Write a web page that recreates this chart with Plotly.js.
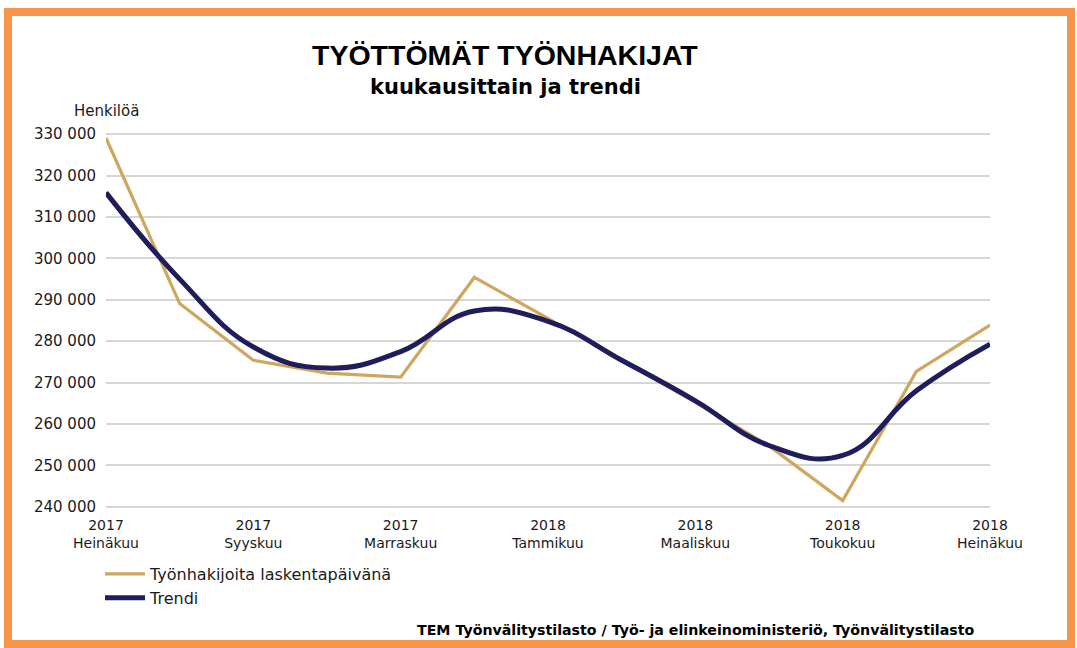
<!DOCTYPE html>
<html>
<head>
<meta charset="utf-8">
<script src="https://cdn.plot.ly/plotly-3.0.1.min.js"></script>
<style>
  html, body { margin: 0; padding: 0; background: #ffffff; }
  #wrap { position: relative; width: 1077px; height: 648px; }
  #chart { position: absolute; left: 0; top: 0; width: 1077px; height: 648px; }
  #frame { position: absolute; left: 4px; top: 8px; width: 1071px; height: 640px;
           box-sizing: border-box; border: 8px solid #F7964A; pointer-events: none; }
</style>
</head>
<body>
<div id="wrap">
  <div id="chart"></div>
  <div id="frame"></div>
</div>
<script>
// Months July 2017 .. July 2018
const months = ["2017-07","2017-08","2017-09","2017-10","2017-11","2017-12",
                "2018-01","2018-02","2018-03","2018-04","2018-05","2018-06","2018-07"];
// Työnhakijoita laskentapäivänä
const jobseekers = [329100, 289100, 275400, 272300, 271300, 295400,
                    285500, 275500, 265300, 254700, 241500, 272700, 283900];
// Trendi
const trend = [315900, 295000, 278600, 273500, 277500, 287300,
               284800, 275400, 265600, 254800, 252400, 268000, 279300];
const tickMonths = ["2017-07","2017-09","2017-11","2018-01","2018-03","2018-05","2018-07"];
const tickLabels = ["2017<br>Heinäkuu","2017<br>Syyskuu","2017<br>Marraskuu","2018<br>Tammikuu",
                    "2018<br>Maaliskuu","2018<br>Toukokuu","2018<br>Heinäkuu"];
const yTicks = [240000,250000,260000,270000,280000,290000,300000,310000,320000,330000];

const seriesNames = ["Työnhakijoita laskentapäivänä", "Trendi"];

const traces = [
  { x: months, y: jobseekers, name: seriesNames[0], type: "scatter", mode: "lines",
    line: { color: "#CFA65E", width: 3.2 } },
  { x: months, y: trend, name: seriesNames[1], type: "scatter", mode: "lines",
    line: { color: "#1F1D5C", width: 5, shape: "spline", smoothing: 1.25 } }
];

const PL = 106, PR = 990, PT = 133, PB = 508;
const px = p => (p - PL) / (PR - PL);
const py = q => (PB - q) / (PB - PT);
const SMALL = "DejaVu Sans, Verdana, sans-serif";

const layout = {
  width: 1077, height: 648,
  margin: { l: PL, r: 1077 - PR, t: PT, b: 648 - PB, pad: 0 },
  paper_bgcolor: "rgba(0,0,0,0)", plot_bgcolor: "rgba(0,0,0,0)",
  font: { family: SMALL, color: "#1a1a1a", size: 14 },
  separators: ", ",
  showlegend: true,
  legend: { x: px(100), y: py(557), xanchor: "left", yanchor: "top",
            font: { family: SMALL, size: 16, color: "#1a1a1a" }, bgcolor: "rgba(0,0,0,0)",
            tracegroupgap: 0, itemwidth: 40 },
  xaxis: {
    type: "category", range: [0, 12],
    tickmode: "array", tickvals: tickMonths, ticktext: tickLabels,
    showgrid: false, zeroline: false, showline: false, ticks: "",
    ticklabelstandoff: 7,
    tickfont: { family: SMALL, size: 14, color: "#1a1a1a" }
  },
  yaxis: {
    range: [239700, 330300], tickmode: "array", tickvals: yTicks,
    tickformat: ",d", showgrid: true, gridcolor: "#D6D6D6", gridwidth: 2,
    zeroline: false, showline: false, ticks: "", ticklabelstandoff: 9,
    tickfont: { family: SMALL, size: 15, color: "#1a1a1a" }
  },
  annotations: [
    { text: "<b>TYÖTTÖMÄT TYÖNHAKIJAT</b>", xref: "paper", yref: "paper",
      x: px(505), y: py(55), xanchor: "center", yanchor: "middle", showarrow: false,
      font: { family: "Liberation Sans, Arial, sans-serif", size: 28.5, color: "#000000" } },
    { text: "<b>kuukausittain ja trendi</b>", xref: "paper", yref: "paper",
      x: px(505), y: py(87), xanchor: "center", yanchor: "middle", showarrow: false,
      font: { family: SMALL, size: 21, color: "#000000" } },
    { text: "Henkilöä", xref: "paper", yref: "paper",
      x: px(72), y: py(111), xanchor: "left", yanchor: "middle", showarrow: false,
      font: { family: SMALL, size: 15, color: "#1a1a1a" } },
    { text: "<b>TEM Työnvälitystilasto / Työ- ja elinkeinoministeriö, Työnvälitystilasto</b>",
      xref: "paper", yref: "paper",
      x: px(976), y: py(630), xanchor: "right", yanchor: "middle", showarrow: false,
      font: { family: SMALL, size: 14.2, color: "#000000" } }
  ]
};

Plotly.newPlot("chart", traces, layout, { displayModeBar: false, staticPlot: true });
</script>
</body>
</html>
